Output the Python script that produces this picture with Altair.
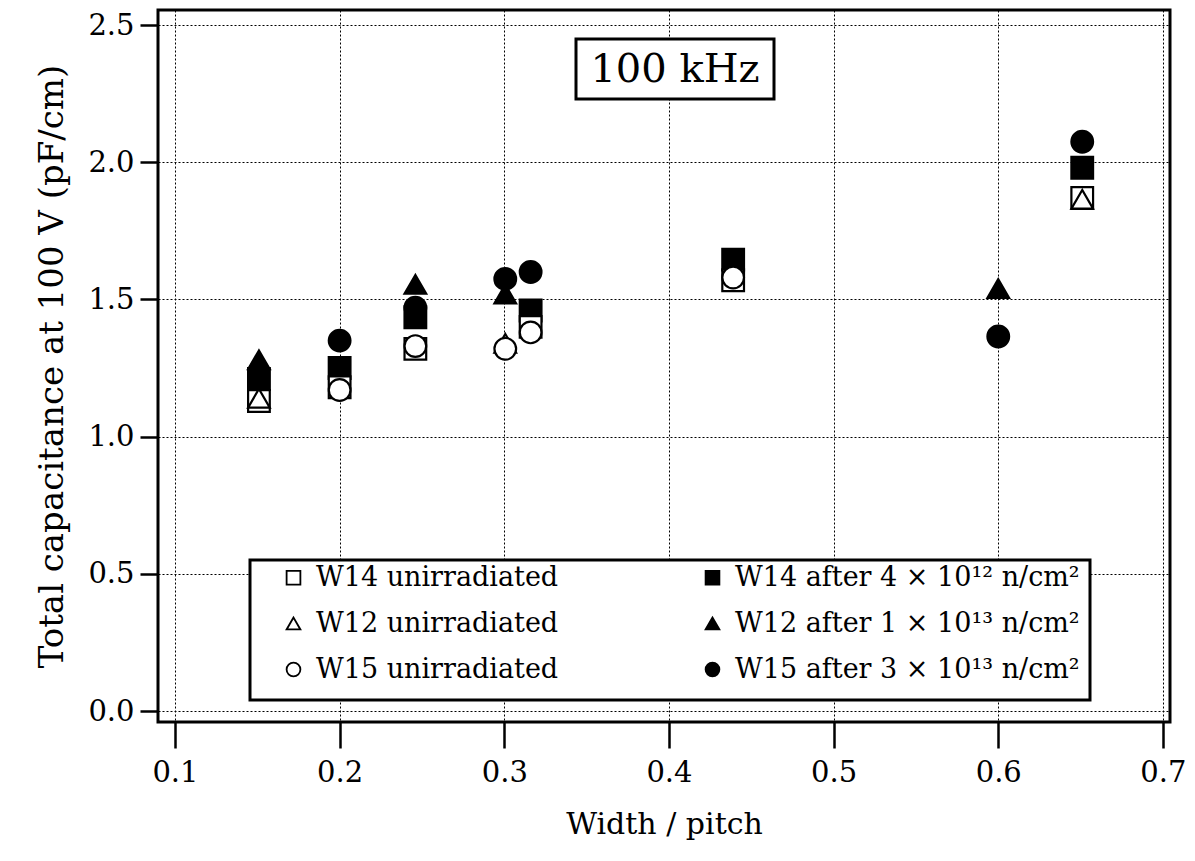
import altair as alt
import pandas as pd

# ---- data ----
W14U = "W14 unirradiated"
W12U = "W12 unirradiated"
W15U = "W15 unirradiated"
W14A = "W14 after 4 × 10¹² n/cm²"
W12A = "W12 after 1 × 10¹³ n/cm²"
W15A = "W15 after 3 × 10¹³ n/cm²"
# legend fills column by column
series_order = [W14U, W12U, W15U, W14A, W12A, W15A]
shape_range = ["square", "triangle-up", "circle", "square", "triangle-up", "circle"]
fill_range = ["white", "white", "white", "black", "black", "black"]

w14u_x = [0.151, 0.200, 0.246, 0.316, 0.439, 0.651]
w14u_y = [1.13, 1.18, 1.32, 1.40, 1.57, 1.87]
w12u_x = [0.151, 0.3006, 0.651]
w12u_y = [1.14, 1.34, 1.865]
w15u_x = [0.200, 0.246, 0.3006, 0.316, 0.439]
w15u_y = [1.17, 1.33, 1.32, 1.38, 1.58]

w14a_x = [0.151, 0.200, 0.246, 0.316, 0.439, 0.651]
w14a_y = [1.21, 1.25, 1.435, 1.46, 1.645, 1.98]
w12a_x = [0.151, 0.246, 0.3006, 0.600]
w12a_y = [1.28, 1.555, 1.52, 1.54]
w15a_x = [0.200, 0.246, 0.3006, 0.316, 0.600, 0.651]
w15a_y = [1.35, 1.47, 1.575, 1.60, 1.365, 2.075]

x_ticks = [0.1, 0.2, 0.3, 0.4, 0.5, 0.6, 0.7]
y_ticks = [0.0, 0.5, 1.0, 1.5, 2.0, 2.5]
title_label = ["100 kHz"]

# filled series first, open series drawn on top
groups = [
    (W14A, w14a_x, w14a_y),
    (W12A, w12a_x, w12a_y),
    (W15A, w15a_x, w15a_y),
    (W14U, w14u_x, w14u_y),
    (W12U, w12u_x, w12u_y),
    (W15U, w15u_x, w15u_y),
]
rows = []
for i, (name, xs, ys) in enumerate(groups):
    for xv, yv in zip(xs, ys):
        rows.append({"series": name, "x": xv, "y": yv, "z": i})
df = pd.DataFrame(rows)
one = pd.DataFrame({"label": title_label})

FONT = "DejaVu Serif"
W, H = 1012, 712

xscale = alt.Scale(domain=[0.0897, 0.7043], nice=False, zero=False)
yscale = alt.Scale(domain=[-0.040, 2.555], nice=False, zero=False)

points = alt.Chart(df).mark_point(
    filled=True, stroke="black", strokeWidth=2.2, size=470, opacity=1
).encode(
    x=alt.X("x:Q", scale=xscale, title="Width / pitch",
            axis=alt.Axis(values=x_ticks, format=".1f")),
    y=alt.Y("y:Q", scale=yscale, title="Total capacitance at 100 V (pF/cm)",
            axis=alt.Axis(values=y_ticks, format=".1f")),
    shape=alt.Shape("series:N", scale=alt.Scale(domain=series_order, range=shape_range)),
    color=alt.Color("series:N", scale=alt.Scale(domain=series_order, range=fill_range),
        legend=alt.Legend(
            title=None, orient="none", legendX=122, legendY=554,
            columns=2, columnPadding=140, rowPadding=18,
            labelFont=FONT, labelFontSize=27, labelColor="black", labelLimit=600,
            symbolSize=190, symbolStrokeColor="black", symbolStrokeWidth=1.8,
            symbolOffset=0, labelOffset=9, padding=0)),
    order=alt.Order("z:Q"),
)

legend_box = alt.Chart(one).mark_rect(
    fill="white", stroke="black", strokeWidth=3
).encode(
    x=alt.value(92), x2=alt.value(932), y=alt.value(550), y2=alt.value(690)
)

title_box = alt.Chart(one).mark_rect(
    fill="white", stroke="black", strokeWidth=3
).encode(
    x=alt.value(418), x2=alt.value(616), y=alt.value(29), y2=alt.value(89)
)
title_text = alt.Chart(one).mark_text(
    font=FONT, fontSize=40, color="black", align="center", baseline="middle"
).encode(x=alt.value(517), y=alt.value(60), text="label:N")

chart = alt.layer(legend_box, title_box, title_text, points).properties(
    width=W, height=H,
    autosize=alt.AutoSizeParams(type="none"),
    padding={"left": 150, "top": 2, "right": 17, "bottom": 130},
).configure_view(
    stroke="black", strokeWidth=3
).configure_axis(
    grid=True, gridColor="black", gridDash=[2, 2], gridWidth=1, gridOpacity=1,
    domain=False, ticks=True, tickColor="black", tickWidth=2.5,
    labelFont=FONT, labelColor="black", titleFont=FONT, titleColor="black",
    titleFontWeight="normal",
).configure_axisX(
    tickSize=26, labelFontSize=29, titleFontSize=30, labelPadding=10,
    titlePadding=22
).configure_axisY(
    tickSize=18, labelFontSize=29, titleFontSize=34, labelPadding=6,
    titlePadding=18
)

chart.save("out.html", embed_options={"renderer": "svg", "actions": False})
